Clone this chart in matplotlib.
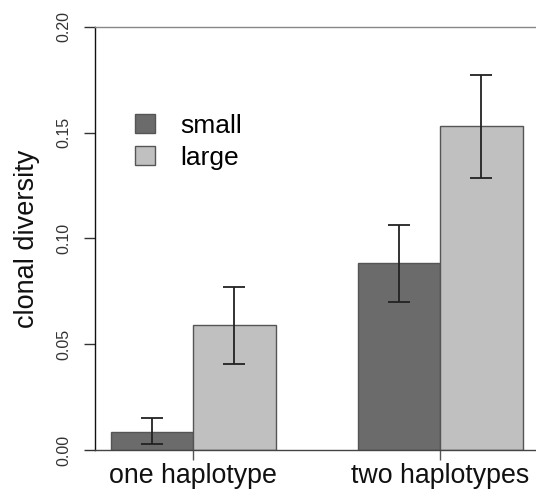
import numpy as np
import matplotlib
matplotlib.use('Agg')
import matplotlib.pyplot as plt

# data
groups = ["one haplotype", "two haplotypes"]
series = ["small", "large"]
small_vals = [0.0087, 0.0882]
small_lo = [0.0027, 0.0698]
small_hi = [0.0153, 0.1063]
large_vals = [0.0590, 0.1529]
large_lo = [0.0406, 0.1286]
large_hi = [0.0770, 0.1773]
yticks = [0.00, 0.05, 0.10, 0.15, 0.20]

plt.rcParams['font.family'] = ['Liberation Sans', 'DejaVu Sans']

fig = plt.figure(figsize=(5.36, 4.90), dpi=100)
ax = fig.add_axes([95/536, 1 - 450/490, 1 - 95/536, (450 - 26.7)/490])

# R-style beside barplot: width 1, space 1 between groups
centers = np.array([2.0, 5.0])
x_small = centers - 0.5
x_large = centers + 0.5
edge = '#555555'
ax.bar(x_small, small_vals, width=1.0, color='#6b6b6b', edgecolor=edge, linewidth=1.0, label=series[0], zorder=2)
ax.bar(x_large, large_vals, width=1.0, color='#c0c0c0', edgecolor=edge, linewidth=1.0, label=series[1], zorder=2)

for xs, v, lo, hi in [(x_small, small_vals, small_lo, small_hi), (x_large, large_vals, large_lo, large_hi)]:
    v = np.array(v)
    err = [v - np.array(lo), np.array(hi) - v]
    ax.errorbar(xs, v, yerr=err, fmt='none', ecolor='#222222', elinewidth=1.3,
                capsize=7.8, capthick=1.3, zorder=3)

ax.set_xlim(0.806, 6.162)
ax.set_ylim(0, 0.20)

ax.spines['right'].set_visible(False)
ax.spines['left'].set_color('#111111')
ax.spines['top'].set_color('#888888')
ax.spines['bottom'].set_color('#444444')
for s in ax.spines.values():
    s.set_linewidth(1.0)

ax.set_yticks(yticks)
ax.set_yticklabels([f"{t:.2f}" for t in yticks], rotation=90, va='center', fontsize=11.5, color='#333333')
ax.tick_params(axis='y', length=8, width=1.0, color='#333333', pad=9)

ax.set_xticks(centers)
ax.set_xticklabels(groups, fontsize=19.3, color='#111111')
ax.tick_params(axis='x', length=7.5, width=1.0, color='#555555', pad=2)

ax.set_ylabel("clonal diversity", fontsize=19.5, color='#111111')
ax.yaxis.set_label_coords(-(95 - 40) / 441, 0.5)

ax.legend(loc='upper left', bbox_to_anchor=((135 - 95) / 441, 1 - (114 - 26.7) / 423.3),
          frameon=False, fontsize=19, handlelength=0.75, handleheight=0.75,
          handletextpad=0.95, labelspacing=0.3, borderaxespad=0, borderpad=0)

fig.savefig('out.png', dpi=100)
